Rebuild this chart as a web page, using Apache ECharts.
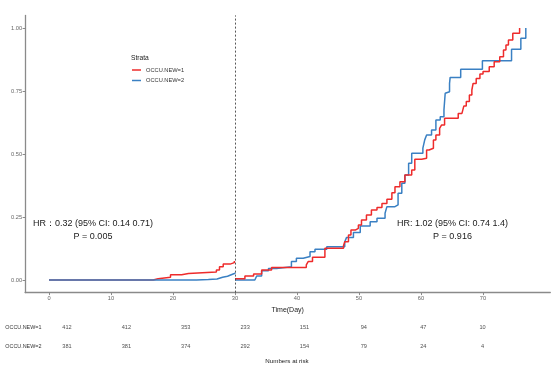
<!DOCTYPE html>
<html>
<head>
<meta charset="utf-8">
<script src="https://cdn.jsdelivr.net/npm/echarts@6/dist/echarts.min.js"></script>
<style>html,body{margin:0;padding:0;background:#fff}#c{width:554px;height:368px}</style>
</head>
<body>
<div id="c"></div>
<script>
// ---- data ----
const groupNames = ['OCCU.NEW=1', 'OCCU.NEW=2'];
const redPreTimes = [0, 16.8, 17.6, 19.6, 21.4, 22.5, 27.0, 27.5, 28.1, 29.2, 29.9, 30];
const redPreValues = [0, 0.005, 0.011, 0.021, 0.026, 0.032, 0.040, 0.053, 0.063, 0.069, 0.075, 0.075];
const bluePreTimes = [0, 23.8, 25.7, 27.1, 28.0, 28.8, 29.3, 30];
const bluePreValues = [0, 0.002, 0.004, 0.011, 0.015, 0.020, 0.027, 0.030];
const redPostTimes = [30, 31.6, 33.0, 34.3, 35.9, 41.5, 41.8, 42.5, 44.5, 47.5, 47.7, 48.3, 48.7, 49.4, 49.9, 50.4, 51.2, 52.0, 52.9, 53.7, 54.5, 55.3, 55.8, 56.6, 57.4, 58.5, 59.0, 60.1, 60.9, 61.3, 62.0, 62.4, 63.0, 63.3, 63.8, 66.0, 66.6, 66.9, 67.3, 67.8, 68.2, 68.4, 68.9, 69.5, 70.0, 71.0, 71.8, 72.7, 73.3, 73.7, 74.1, 74.8, 75.9];
const redPostValues = [0.005, 0.016, 0.024, 0.040, 0.050, 0.060, 0.073, 0.090, 0.126, 0.136, 0.152, 0.179, 0.198, 0.205, 0.218, 0.238, 0.258, 0.278, 0.288, 0.304, 0.320, 0.346, 0.370, 0.390, 0.417, 0.437, 0.479, 0.483, 0.516, 0.523, 0.556, 0.575, 0.602, 0.615, 0.642, 0.661, 0.668, 0.690, 0.708, 0.734, 0.754, 0.780, 0.800, 0.817, 0.827, 0.846, 0.866, 0.886, 0.913, 0.933, 0.952, 0.979, 1.0];
const bluePostTimes = [30, 33.2, 33.5, 34.3, 35.4, 36.7, 39.1, 39.9, 41.0, 42.1, 42.9, 44.8, 47.7, 48.0, 49.1, 50.2, 51.8, 52.9, 54.2, 54.5, 55.8, 56.3, 56.9, 57.4, 58.0, 58.5, 60.3, 60.6, 60.9, 61.7, 62.4, 63.1, 63.7, 63.9, 64.0, 64.6, 64.7, 66.4, 69.9, 74.6, 76.1, 76.9];
const bluePostValues = [0, 0.003, 0.016, 0.037, 0.046, 0.053, 0.073, 0.086, 0.093, 0.112, 0.122, 0.132, 0.152, 0.169, 0.188, 0.214, 0.231, 0.245, 0.265, 0.291, 0.298, 0.344, 0.384, 0.417, 0.463, 0.503, 0.523, 0.556, 0.575, 0.595, 0.635, 0.648, 0.675, 0.741, 0.747, 0.780, 0.804, 0.836, 0.870, 0.916, 0.959, 1.0];
const landmarkDay = 30;
const xTicks = [0, 10, 20, 30, 40, 50, 60, 70];
const yTicks = [0, 0.25, 0.5, 0.75, 1.0];
const riskCategories = ['0', '10', '20', '30', '40', '50', '60', '70'];
const risk1 = [412, 412, 353, 233, 151, 94, 47, 10];
const risk2 = [381, 381, 374, 292, 154, 79, 24, 4];
const hrLeft = 'HR：0.32 (95% CI: 0.14 0.71)';
const pLeft = 'P = 0.005';
const hrRight = 'HR: 1.02 (95% CI: 0.74 1.4)';
const pRight = 'P = 0.916';

// ---- chart ----
const RED = '#EE2B2B', BLUE = '#3A80C3';
const FONT = 'Liberation Sans, Arial, sans-serif';
const zip = (t, v) => t.map((x, i) => [x, v[i]]);

function curve(name, color, t, v, extra) {
  return Object.assign({
    name, type: 'line', step: 'end', xAxisIndex: 0, yAxisIndex: 0,
    symbol: 'none', showSymbol: false, animation: false,
    lineStyle: { color, width: 1.5 }, itemStyle: { color },
    data: zip(t, v)
  }, extra || {});
}

const riskData = [];
risk1.forEach((n, i) => riskData.push([riskCategories[i], groupNames[0], n]));
risk2.forEach((n, i) => riskData.push([riskCategories[i], groupNames[1], n]));

const chart = echarts.init(document.getElementById('c'), null, { renderer: 'canvas' });
chart.setOption({
  backgroundColor: '#fff',
  animation: false,
  textStyle: { fontFamily: FONT },
  title: [
    { text: 'Strata', left: 131, top: 55, padding: 0,
      textStyle: { fontSize: 6.7, fontWeight: 'normal', color: '#222', fontFamily: FONT } },
    { text: 'Numbers at risk', left: 287, top: 358.5, padding: 0, textAlign: 'center',
      textStyle: { fontSize: 6.2, fontWeight: 'normal', color: '#222', fontFamily: FONT } }
  ],
  legend: {
    data: groupNames.map(n => ({ name: n, icon: 'rect' })), orient: 'vertical', left: 132, top: 67, padding: 0,
    itemWidth: 9, itemHeight: 1.5, itemGap: 4.5,
    textStyle: { fontSize: 5.7, color: '#333', fontFamily: FONT }
  },
  graphic: [
    { type: 'text', x: 93, y: 224, style: { text: hrLeft, fill: '#1a1a1a', font: '9px ' + FONT, textAlign: 'center', textVerticalAlign: 'middle' } },
    { type: 'text', x: 93, y: 236.5, style: { text: pLeft, fill: '#1a1a1a', font: '9px ' + FONT, textAlign: 'center', textVerticalAlign: 'middle' } },
    { type: 'text', x: 452.5, y: 224, style: { text: hrRight, fill: '#1a1a1a', font: '9px ' + FONT, textAlign: 'center', textVerticalAlign: 'middle' } },
    { type: 'text', x: 452.5, y: 236.5, style: { text: pRight, fill: '#1a1a1a', font: '9px ' + FONT, textAlign: 'center', textVerticalAlign: 'middle' } }
  ],
  grid: [
    { left: 25.1, right: 3.7, top: 15.4, bottom: 75.4, containLabel: false, outerBoundsMode: 'none' },
    { left: 37.3, width: 475, top: 318, height: 38, containLabel: false, outerBoundsMode: 'none' }
  ],
  xAxis: [
    { type: 'value', gridIndex: 0, min: -3.85, max: 80.85,
      name: 'Time(Day)', nameLocation: 'middle', nameGap: 8.5,
      nameTextStyle: { fontSize: 7, color: '#222', fontFamily: FONT },
      axisLine: { show: true, onZero: false, lineStyle: { color: '#8a8a8a', width: 1.3 } },
      axisTick: { show: true, length: 2.5, customValues: xTicks, lineStyle: { color: '#8a8a8a', width: 1 } },
      axisLabel: { customValues: xTicks, fontSize: 5.7, color: '#666', margin: 3, fontFamily: FONT },
      splitLine: { show: false } },
    { type: 'category', gridIndex: 1, data: riskCategories, show: false }
  ],
  yAxis: [
    { type: 'value', gridIndex: 0, min: -0.05, max: 1.05,
      name: 'Survival', nameLocation: 'middle', nameGap: 15.5,
      nameTextStyle: { fontSize: 7, color: '#222', fontFamily: FONT },
      axisLine: { show: true, onZero: false, lineStyle: { color: '#8a8a8a', width: 1.3 } },
      axisTick: { show: true, length: 2.5, customValues: yTicks, lineStyle: { color: '#8a8a8a', width: 1 } },
      axisLabel: { customValues: yTicks, fontSize: 5.7, color: '#666', margin: 3, fontFamily: FONT,
        formatter: v => v.toFixed(2) },
      splitLine: { show: false } },
    { type: 'category', gridIndex: 1, data: [groupNames[1], groupNames[0]], inverse: false,
      axisLine: { show: false }, axisTick: { show: false }, splitLine: { show: false },
      axisLabel: { align: 'left', margin: 32, fontSize: 5.4, color: '#333', fontFamily: FONT } }
  ],
  series: [
    curve(groupNames[0], RED, redPreTimes, redPreValues),
    curve(groupNames[1], BLUE, bluePreTimes, bluePreValues),
    curve(groupNames[1], BLUE, bluePostTimes, bluePostValues),
    curve(groupNames[0], RED, redPostTimes, redPostValues, {
      markLine: { silent: true, symbol: ['none', 'none'], label: { show: false },
        lineStyle: { type: [2, 2], color: '#444', width: 0.9 },
        data: [{ xAxis: landmarkDay }] }
    }),
    { type: 'scatter', xAxisIndex: 1, yAxisIndex: 1, symbolSize: 0, animation: false, silent: true,
      data: riskData,
      label: { show: true, position: 'inside', formatter: p => String(p.value[2]),
        fontSize: 5.6, color: '#222', fontFamily: FONT } }
  ]
});
</script>
</body>
</html>
